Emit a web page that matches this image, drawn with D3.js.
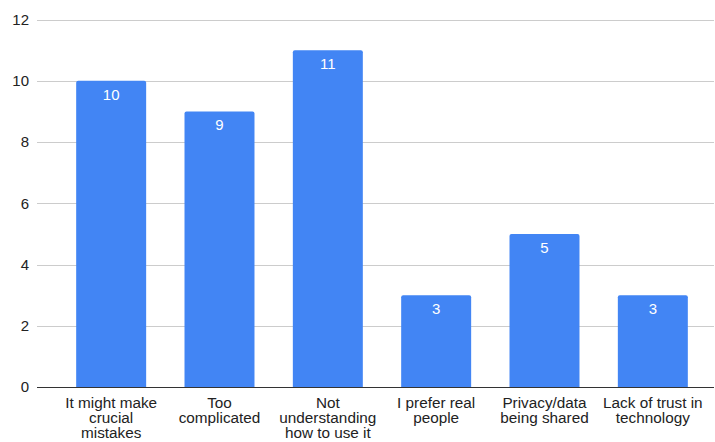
<!DOCTYPE html>
<html>
<head>
<meta charset="utf-8">
<script src="https://cdn.jsdelivr.net/npm/d3@7"></script>
<style>
  html, body { margin: 0; padding: 0; background: #fff; }
  svg { display: block; font-family: "Liberation Sans", Arial, sans-serif; }
</style>
</head>
<body>
<svg id="chart" width="715" height="442"></svg>
<script>
// Reasons given for not using the tool (response counts)
const categories = [
  ["It might make", "crucial", "mistakes"],
  ["Too", "complicated"],
  ["Not", "understanding", "how to use it"],
  ["I prefer real", "people"],
  ["Privacy/data", "being shared"],
  ["Lack of trust in", "technology"]
];
const counts = [10, 9, 11, 3, 5, 3];
const yTicks = [0, 2, 4, 6, 8, 10, 12];

const svg = d3.select("#chart");
const gridLeft = 37, gridRight = 714;
const plotTop = 19.5, plotBottom = 387;

const keys = categories.map((c, i) => i);
const x = d3.scaleBand().domain(keys).range([57, 707]).paddingInner(0.354).paddingOuter(0.177);
const y = d3.scaleLinear().domain([0, 12]).range([plotBottom, plotTop]);

// Horizontal gridlines
svg.append("g")
  .selectAll("line")
  .data(yTicks.filter(t => t !== 0))
  .join("line")
  .attr("x1", gridLeft).attr("x2", gridRight)
  .attr("y1", d => Math.round(y(d)) + 0.5).attr("y2", d => Math.round(y(d)) + 0.5)
  .attr("stroke", "#cccccc").attr("stroke-width", 1);

// Y axis labels
const yAxis = d3.axisLeft(y).tickValues(yTicks).tickSize(0).tickPadding(0);
const yg = svg.append("g").attr("transform", `translate(29,0)`).call(yAxis);
yg.select(".domain").remove();
yg.selectAll("text")
  .attr("font-size", 15)
  .attr("fill", "#222")
  .attr("font-family", "'Liberation Sans', Arial, sans-serif");

// Bars with slightly rounded tops
const r = 2;
svg.append("g")
  .selectAll("path")
  .data(counts)
  .join("path")
  .attr("fill", "#4285f4")
  .attr("d", (d, i) => {
    const x0 = x(i), x1 = x(i) + x.bandwidth();
    const y0 = y(d), y1 = y(0);
    return `M${x0},${y1}V${y0 + r}Q${x0},${y0} ${x0 + r},${y0}H${x1 - r}Q${x1},${y0} ${x1},${y0 + r}V${y1}Z`;
  });

// Value labels inside bar tops
svg.append("g")
  .selectAll("text")
  .data(counts)
  .join("text")
  .attr("x", (d, i) => x(i) + x.bandwidth() / 2)
  .attr("y", d => y(d) + 19)
  .attr("text-anchor", "middle")
  .attr("font-size", 15)
  .attr("fill", "#ffffff")
  .text(d => d);

// Baseline
svg.append("line")
  .attr("x1", gridLeft).attr("x2", gridRight)
  .attr("y1", Math.round(y(0)) + 0.5).attr("y2", Math.round(y(0)) + 0.5)
  .attr("stroke", "#333333").attr("stroke-width", 1);

// Category labels (multi-line)
const xg = svg.append("g");
categories.forEach((lines, i) => {
  const t = xg.append("text")
    .attr("x", x(i) + x.bandwidth() / 2)
    .attr("y", 408)
    .attr("text-anchor", "middle")
    .attr("font-size", 15.3)
    .attr("fill", "#222");
  lines.forEach((ln, j) => {
    t.append("tspan")
      .attr("x", x(i) + x.bandwidth() / 2)
      .attr("dy", j === 0 ? 0 : 15)
      .text(ln);
  });
});
</script>
</body>
</html>
